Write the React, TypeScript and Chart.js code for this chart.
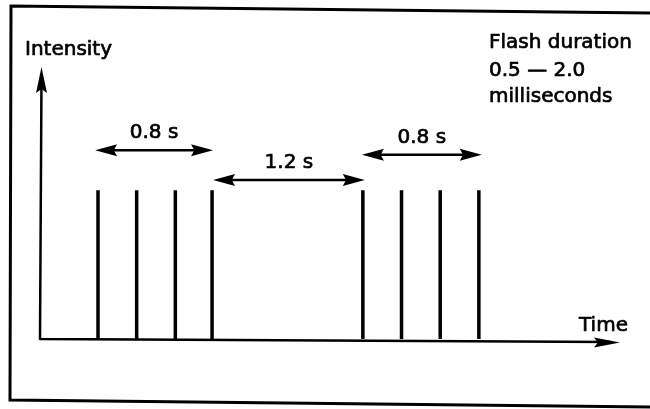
import React, { useEffect, useRef } from "react";
import { Chart, registerables } from "chart.js";

Chart.register(...registerables);

// Flash times (schematic time units along the axis) and their relative intensity
const pulseTimes = [0.3, 0.5, 0.7, 0.89, 1.67, 1.87, 2.07, 2.27];
const pulseIntensity = [1, 1, 1, 1, 1, 1, 1, 1];

// Interval annotations (double-headed arrows)
const intervalLabels = ["0.8 s", "1.2 s", "0.8 s"];
const intervalStarts = [0.285, 0.895, 1.665];
const intervalEnds = [0.895, 1.68, 2.285];
const intervalLevels = [1.27, 1.07, 1.24];

const axisTitles = { y: "Intensity", x: "Time" };
const noteLines = ["Flash duration", "0.5 \u2014 2.0", "milliseconds"];

const X_MAX = 3.0;
const Y_MAX = 1.83;

const FONT = '20px "DejaVu Sans", sans-serif';

function arrowHead(
  ctx: CanvasRenderingContext2D,
  tipX: number,
  tipY: number,
  dx: number,
  dy: number,
  len: number,
  half: number
) {
  const bx = tipX - dx * len;
  const by = tipY - dy * len;
  const nx = -dy;
  const ny = dx;
  ctx.beginPath();
  ctx.moveTo(tipX, tipY);
  ctx.lineTo(bx + nx * half, by + ny * half);
  ctx.lineTo(tipX - dx * len * 0.85, tipY - dy * len * 0.85);
  ctx.lineTo(bx - nx * half, by - ny * half);
  ctx.closePath();
  ctx.fill();
}

function boldText(ctx: CanvasRenderingContext2D, t: string, x: number, y: number) {
  ctx.fillText(t, x, y);
  ctx.strokeText(t, x, y);
}

const diagramPlugin = {
  id: "diagram",
  beforeDraw(chart: any) {
    const ctx = chart.ctx as CanvasRenderingContext2D;
    ctx.save();
    ctx.fillStyle = "#ffffff";
    ctx.fillRect(0, 0, chart.width, chart.height);
    // outer frame (scan is slightly tilted)
    ctx.strokeStyle = "#000";
    ctx.lineWidth = 3;
    ctx.beginPath();
    ctx.moveTo(652, 13);
    ctx.lineTo(11, 6);
    ctx.lineTo(10, 400);
    ctx.lineTo(652, 407);
    ctx.stroke();
    ctx.restore();
  },
  afterDraw(chart: any) {
    const ctx = chart.ctx as CanvasRenderingContext2D;
    const xs = chart.scales.x;
    const ys = chart.scales.y;
    const x0 = xs.getPixelForValue(0);
    const y0 = ys.getPixelForValue(0);
    const xEnd = xs.getPixelForValue(X_MAX);
    const yEnd = ys.getPixelForValue(Y_MAX);
    ctx.save();
    ctx.strokeStyle = "#000";
    ctx.fillStyle = "#000";
    ctx.lineCap = "round";

    // axes
    ctx.lineWidth = 2.5;
    ctx.beginPath();
    ctx.moveTo(x0, y0);
    ctx.lineTo(x0 + 1.5, yEnd + 10);
    ctx.moveTo(x0, y0);
    ctx.lineTo(xEnd - 10, y0 + 3);
    ctx.stroke();
    arrowHead(ctx, x0 + 1.5, yEnd, 0, -1, 26, 5.5);
    arrowHead(ctx, xEnd, y0 + 3.5, 1, 0, 26, 5);

    // interval arrows
    ctx.lineWidth = 2.5;
    ctx.lineCap = "butt";
    intervalLabels.forEach((lab, i) => {
      const a = xs.getPixelForValue(intervalStarts[i]);
      const b = xs.getPixelForValue(intervalEnds[i]);
      const y = ys.getPixelForValue(intervalLevels[i]);
      ctx.beginPath();
      ctx.moveTo(a + 10, y);
      ctx.lineTo(b - 10, y);
      ctx.stroke();
      arrowHead(ctx, a, y, -1, 0, 22, 6);
      arrowHead(ctx, b, y, 1, 0, 22, 6);
    });

    // texts
    ctx.font = FONT;
    ctx.lineWidth = 0.7;
    ctx.lineJoin = "round";
    ctx.textBaseline = "alphabetic";
    ctx.textAlign = "center";
    intervalLabels.forEach((lab, i) => {
      const a = xs.getPixelForValue(intervalStarts[i]);
      const b = xs.getPixelForValue(intervalEnds[i]);
      const y = ys.getPixelForValue(intervalLevels[i]);
      boldText(ctx, lab, (a + b) / 2, y - 12);
    });
    ctx.textAlign = "left";
    boldText(ctx, axisTitles.y, 25, 55);
    boldText(ctx, axisTitles.x, 579, 331);
    const lineYs = [48, 76, 102];
    noteLines.forEach((t, i) => boldText(ctx, t, 489, lineYs[i]));
    ctx.restore();
  },
};

export default function App() {
  const ref = useRef<HTMLCanvasElement | null>(null);
  useEffect(() => {
    if (!ref.current) return;
    const data: any[] = [];
    pulseTimes.forEach((t, i) => {
      data.push({ x: t, y: 0 });
      data.push({ x: t, y: pulseIntensity[i] });
      data.push({ x: t, y: null });
    });
    const chart = new Chart(ref.current, {
      type: "line",
      data: {
        datasets: [
          {
            data,
            borderColor: "#000",
            borderWidth: 3.5,
            borderCapStyle: "butt",
            pointRadius: 0,
            spanGaps: false,
            tension: 0,
          },
        ],
      },
      options: {
        responsive: false,
        animation: false,
        events: [],
        layout: { padding: { left: 40, right: 30, top: 67, bottom: 70 } },
        plugins: { legend: { display: false }, tooltip: { enabled: false } },
        scales: {
          x: { type: "linear", min: 0, max: X_MAX, display: false },
          y: { type: "linear", min: 0, max: Y_MAX, display: false },
        },
      },
      plugins: [diagramPlugin],
    });
    return () => chart.destroy();
  }, []);
  return (
    <div style={{ position: "fixed", left: 0, top: 0, width: 650, height: 409 }}>
      <canvas ref={ref} width={650} height={409} />
    </div>
  );
}
